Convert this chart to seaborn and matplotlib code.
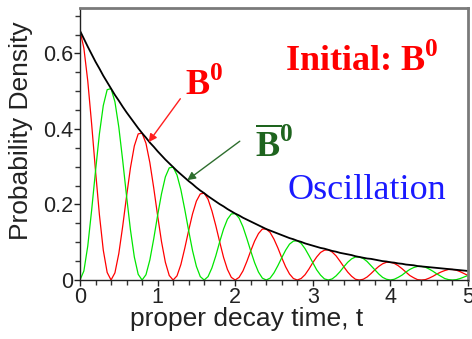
import numpy as np
import pandas as pd
import seaborn as sns
import matplotlib.pyplot as plt
from matplotlib.ticker import MultipleLocator

# sampling grid of proper time
t = np.round(np.arange(0, 5.0001, 0.05), 2)

# envelope (black), values
envelope = [
    .660, .639, .618, .598, .578, .560, .541, .524, .507, .490,
    .475, .459, .444, .430, .416, .402, .389, .377, .364, .353,
    .341, .330, .319, .309, .299, .289, .280, .271, .262, .254,
    .245, .237, .230, .222, .215, .208, .201, .195, .188, .182,
    .176, .171, .165, .160, .155, .150, .145, .140, .135, .131,
    .127, .123, .119, .115, .111, .108, .104, .101, .097, .094,
    .091, .088, .085, .083, .080, .077, .075, .072, .070, .068,
    .066, .063, .061, .059, .057, .056, .054, .052, .050, .049,
    .047, .046, .044, .043, .041, .040, .039, .037, .036, .035,
    .034, .033, .032, .031, .030, .029, .028, .027, .026, .025,
    .024,
]

# B0 (red)
b0 = [
    .660, .614, .527, .413, .289, .173, .079, .020, .000, .019,
    .070, .142, .222, .297, .355, .387, .389, .362, .311, .244,
    .171, .102, .047, .012, .000, .011, .041, .084, .131, .175,
    .209, .228, .230, .214, .183, .144, .101, .060, .028, .007,
    .000, .007, .024, .049, .077, .103, .123, .135, .135, .126,
    .108, .085, .059, .035, .016, .004, .000, .004, .014, .029,
    .046, .061, .073, .079, .080, .074, .064, .050, .035, .021,
    .010, .002, .000, .002, .008, .017, .027, .036, .043, .047,
    .047, .044, .038, .030, .021, .012, .006, .001, .000, .001,
    .005, .010, .016, .021, .025, .028, .028, .026, .022, .017,
    .012,
]

# anti-B0 (green)
b0bar = [
    .000, .024, .090, .185, .289, .387, .462, .504, .507, .472,
    .405, .317, .222, .133, .061, .015, .000, .014, .053, .109,
    .171, .228, .273, .297, .299, .278, .239, .187, .131, .078,
    .036, .009, .000, .009, .032, .064, .101, .135, .161, .175,
    .176, .164, .141, .110, .077, .046, .021, .005, .000, .005,
    .019, .038, .059, .079, .095, .103, .104, .097, .083, .065,
    .046, .027, .013, .003, .000, .003, .011, .022, .035, .047,
    .056, .061, .061, .057, .049, .038, .027, .016, .007, .002,
    .000, .002, .007, .013, .021, .028, .033, .036, .036, .034,
    .029, .023, .016, .010, .004, .001, .000, .001, .004, .008,
    .012,
]

xticks = [0, 1, 2, 3, 4, 5]
yticks = [0, 0.2, 0.4, 0.6]
yticklabels = ['0', '0.2', '0.4', '0.6']

df = pd.DataFrame({'t': t, 'envelope': envelope, 'b0': b0, 'b0bar': b0bar})

sns.set_theme(style="white")
plt.rcParams['font.family'] = ['Liberation Sans', 'DejaVu Sans']
plt.rcParams['mathtext.fontset'] = 'custom'
plt.rcParams['mathtext.rm'] = 'Liberation Serif'
plt.rcParams['mathtext.bf'] = 'Liberation Serif:bold'

fig = plt.figure(figsize=(4.72, 3.39), dpi=100)
ax = fig.add_axes([0.1695, 0.174, 0.822, 0.802])

sns.lineplot(data=df, x='t', y='b0', color='#ff0000', lw=0.9, ax=ax)
sns.lineplot(data=df, x='t', y='b0bar', color='#00e600', lw=0.9, ax=ax)
sns.lineplot(data=df, x='t', y='envelope', color='black', lw=1.3, ax=ax)

ax.set_xlim(0, 5)
ax.set_ylim(0, 0.72)
ax.set_xticks(xticks)
ax.set_xticklabels([str(x) for x in xticks])
ax.set_yticks(yticks)
ax.set_yticklabels(yticklabels)
ax.xaxis.set_minor_locator(MultipleLocator(0.2))
ax.yaxis.set_minor_locator(MultipleLocator(0.05))
ax.tick_params(which='both', direction='out', left=True, bottom=True, color='#333333')
ax.tick_params(which='major', length=4, width=1, labelsize=15.5, pad=1, colors='#222222')
ax.tick_params(which='minor', length=3.5, width=1)

ax.set_xlabel('proper decay time, t', fontsize=19, color='#222222')
ax.set_ylabel('Probability Density', fontsize=19, color='#222222')
ax.xaxis.set_label_coords(0.43, -0.1)
ax.yaxis.set_label_coords(-0.12, 0.55)

for side in ['left', 'bottom']:
    ax.spines[side].set_color('#222222')
    ax.spines[side].set_linewidth(1)
for side in ['top', 'right']:
    ax.spines[side].set_color('#7a7a7a')
    ax.spines[side].set_linewidth(2)

# annotations
ax.text(2.64, 0.555, r'Initial: B$^{\mathbf{0}}$', color='#ff0000', fontsize=26,
        fontweight='bold', family='Liberation Serif', va='baseline')
ax.text(1.35, 0.491, r'$\mathbf{B}^{\mathbf{0}}$', color='#ff0000', fontsize=26, va='baseline')
ax.text(2.26, 0.327, r'$\overline{\mathbf{B}}^{\mathbf{0}}$', color='#1e641e', fontsize=26, va='baseline')
ax.text(2.68, 0.215, 'Oscillation', color='#1a1aff', fontsize=26,
        family='Liberation Serif', va='baseline')

ax.annotate('', xy=(0.863, 0.359), xytext=(1.314, 0.486),
            arrowprops=dict(arrowstyle='-|>', color='#ff2020', lw=1, mutation_scale=12))
ax.annotate('', xy=(1.353, 0.260), xytext=(2.088, 0.372),
            arrowprops=dict(arrowstyle='-|>', color='#2e6e2e', lw=1, mutation_scale=12))

fig.savefig('out.png', dpi=100)
